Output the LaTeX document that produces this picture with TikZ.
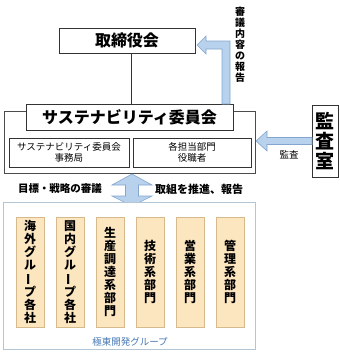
\documentclass[tikz,border=0pt]{standalone}
\usepackage{fontspec}
\usepackage{graphicx}
\setmainfont{Noto Sans CJK JP}
\definecolor{arrfill}{RGB}{184,209,236}
\definecolor{arrdraw}{RGB}{132,166,206}
\definecolor{orfill}{RGB}{252,230,192}
\definecolor{ordraw}{RGB}{214,186,140}
\definecolor{grpdraw}{RGB}{178,198,214}
\definecolor{grptext}{RGB}{70,120,180}
\newcommand{\vbar}{\rotatebox[origin=c]{90}{ー}}
\tikzset{
  box/.style={draw=black!80, line width=0.8pt, fill=white, inner sep=0pt, align=center},
  orbox/.style={draw=ordraw, line width=0.6pt, fill=orfill, inner sep=0pt, minimum width=28, minimum height=110, align=center, font=\fontsize{12}{12.9}\selectfont\bfseries},
  blockarrow/.style={fill=arrfill, draw=arrdraw, line width=0.6pt, line join=miter},
  lbl/.style={inner sep=0pt, align=center}
}
\begin{document}
\begin{tikzpicture}[x=1pt,y=-1pt]
\useasboundingbox (0,0) rectangle (340,354);
% top
\node[box, minimum width=136, minimum height=25, font=\fontsize{16}{18}\selectfont\bfseries] (board) at (127,40.5) {取締役会};
\node[box, draw=black!70, minimum width=251, minimum height=62] (outer) at (129.5,142) {};
\node[box, minimum width=207, minimum height=26, font=\fontsize{16}{18}\selectfont\bfseries] (committee) at (129.5,117) {サステナビリティ委員会};
\node[box, minimum width=120, minimum height=29, font=\fontsize{9.5}{11}\selectfont] (sub1) at (69,152.5) {サステナビリティ委員会\\事務局};
\node[box, minimum width=118, minimum height=29, font=\fontsize{9.5}{11}\selectfont] (sub2) at (192,152.5) {各担当部門\\役職者};
\node[box, minimum width=26, minimum height=72, font=\fontsize{19}{20}\selectfont\bfseries] (audit) at (325,141) {監\\査\\室};
\draw[black!80, line width=0.6pt] ([xshift=4pt]board.south) -- ([xshift=4pt]board.south |- committee.north);
% block arrows
\draw[blockarrow] (230,104) -- (230,41) -- (206,41) -- (206,36) -- (197,45) -- (206,54) -- (206,49) -- (222,49) -- (222,104) -- cycle;
\draw[blockarrow] (312,137.5) -- (267,137.5) -- (267,131) -- (256,141) -- (267,151) -- (267,144.5) -- (312,144.5) -- cycle;
\draw[blockarrow] (132,174) -- (152,185) -- (138.5,185) -- (138.5,196) -- (152,196) -- (132,206) -- (112,196) -- (125.5,196) -- (125.5,185) -- (112,185) -- cycle;
% labels
\node[lbl, font=\fontsize{10}{11}\selectfont\bfseries] (lrep) at (240,45) {審\\議\\内\\容\\の\\報\\告};
\node[lbl, font=\fontsize{9.5}{11}\selectfont] (laud) at (289,155) {監査};
\node[lbl, font=\fontsize{10.5}{12}\selectfont\bfseries] (lgoal) at (60,189) {目標・戦略の審議};
\node[lbl, font=\fontsize{11}{12}\selectfont\bfseries] (lprom) at (199,189) {取組を推進、報告};
% group
\node[draw=grpdraw, line width=0.8pt, fill=white, minimum width=252, minimum height=147, inner sep=0pt] (group) at (129,275.5) {};
\node[orbox] (g1) at (30,272) {海\\外\\グ\\ル\\\vbar\\プ\\各\\社};
\node[orbox] (g2) at (70,272) {国\\内\\グ\\ル\\\vbar\\プ\\各\\社};
\node[orbox] (g3) at (110,272) {生\\産\\調\\達\\系\\部\\門};
\node[orbox] (g4) at (150,272) {技\\術\\系\\部\\門};
\node[orbox] (g5) at (190,272) {営\\業\\系\\部\\門};
\node[orbox] (g6) at (230,272) {管\\理\\系\\部\\門};
\node[lbl, text=grptext, font=\fontsize{9.5}{11}\selectfont] (lgrp) at (130,342) {極東開発グループ};
\end{tikzpicture}
\end{document}
